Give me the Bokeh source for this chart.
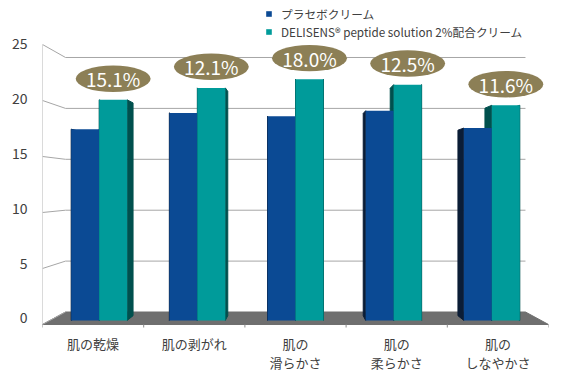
from bokeh.plotting import figure
from bokeh.models import Range1d, FactorRange, LinearAxis, FixedTicker, Legend, LegendItem, ColumnDataSource
from bokeh.core.properties import value
from bokeh.embed import file_html
from bokeh.resources import INLINE

# ---------------- data ----------------
categories = ["肌の乾燥", "肌の剥がれ", "肌の\n滑らかさ", "肌の\n柔らかさ", "肌の\nしなやかさ"]
series_names = ["プラセボクリーム", "DELISENS® peptide solution 2%配合クリーム"]
placebo = [17.6, 19.1, 18.8, 19.3, 17.7]
delisens = [20.3, 21.4, 22.2, 21.7, 19.8]
improvement = ["15.1%", "12.1%", "18.0%", "12.5%", "11.6%"]
y_ticks = [0, 5, 10, 15, 20, 25]

# ---------------- styles / 3D projection helpers ----------------
FONT = "Noto Sans CJK JP"
BLUE, TEAL = "#0b4a94", "#009b9a"
BLUE_SIDE, TEAL_SIDE = "#0b1d36", "#00504e"
GRID = "#a6a6a6"
FLOOR = "#6f6f6f"
TXT = "#404040"
OVAL = "#8c7f56"

XC, VC = 2.5, 12.24           # vanishing centre (screen data units)
S_BACK, S_BAR, S_BAR_BACK = 0.909, 0.97, 0.936
BW = 0.285                    # bar width in category units


def vf(v):
    # value -> screen-y at the front plane
    return (11.2 * v - 5.0) / 10.8


def scr(X, v, s):
    return XC + (X - XC) * s, VC + (vf(v) - VC) * s


n = len(categories)
p = figure(frame_width=506, frame_height=327, output_backend="svg", toolbar_location=None,
           x_range=FactorRange(*categories), y_range=Range1d(-0.741, 29.537),
           y_axis_location=None,
           min_border_left=42, min_border_right=17, min_border_top=0, min_border_bottom=46)
p.outline_line_color = None
p.xgrid.visible = False
p.ygrid.visible = False
p.background_fill_color = "white"

# y axis (labels only; range matches the front plane label positions)
p.extra_y_ranges = {"lab": Range1d(-0.867, 28.969)}
yax = LinearAxis(y_range_name="lab", ticker=FixedTicker(ticks=y_ticks))
yax.axis_line_color = None
yax.major_tick_line_color = None
yax.minor_tick_line_color = None
yax.major_label_standoff = 9
yax.major_label_text_font = FONT
yax.major_label_text_font_size = "14px"
yax.major_label_text_color = TXT
p.add_layout(yax, "left")

xax = p.xaxis[0]
xax.axis_line_color = None
xax.major_tick_line_color = None
xax.major_tick_out = 0
xax.major_label_standoff = 6
xax.major_label_text_font = FONT
xax.major_label_text_font_size = "13px"
xax.major_label_text_color = TXT
xax.major_label_text_line_height = 1.05

# floor
fx, fy = [], []
for X, s in [(0, 1), (n, 1), (n, S_BACK), (0, S_BACK)]:
    a, b = scr(X, 0, s)
    fx.append(a); fy.append(b)
p.patch(fx, fy, fill_color=FLOOR, line_color=FLOOR)

# back wall grid lines + perspective lines + axis line
gx0, gy0, gx1, gy1 = [], [], [], []
dx0, dy0, dx1, dy1 = [], [], [], []
for t in y_ticks:
    a0, b0 = scr(0, t, S_BACK)
    a1, b1 = scr(n, t, S_BACK)
    if t > 0:
        gx0.append(a0); gy0.append(b0); gx1.append(a1); gy1.append(b1)
    c0, e0 = scr(0, t, 1)
    dx0.append(c0); dy0.append(e0); dx1.append(a0); dy1.append(b0)
p.segment(gx0, gy0, gx1, gy1, line_color=GRID, line_width=1)
p.segment(dx0, dy0, dx1, dy1, line_color=GRID, line_width=1)
ax0 = scr(0, y_ticks[0], 1)
ax1 = scr(0, y_ticks[-1], 1)
p.segment([ax0[0]], [ax0[1]], [ax1[0]], [ax1[1]], line_color="#b5b5b5", line_width=1)
# category separators under the floor
sx, sy0, sy1 = [], [], []
for k in range(n + 1):
    a, b = scr(k, 0, 1)
    sx.append(a); sy0.append(b); sy1.append(b - 0.38)
p.segment(sx, sy0, sx, sy1, line_color="#8c8c8c", line_width=1)

# bars: side faces first, then front faces
side_x, side_y, side_c = [], [], []
fronts = {0: dict(left=[], right=[], top=[], bottom=[]), 1: dict(left=[], right=[], top=[], bottom=[])}
teal_cx, teal_top = [], []
for i in range(n):
    c = i + 0.5
    for k, (vals, col) in enumerate([(placebo, BLUE_SIDE), (delisens, TEAL_SIDE)]):
        xl = c - BW + k * BW
        xr = xl + BW
        v = vals[i]
        for xe in (xl, xr):
            f_b = scr(xe, 0, S_BAR); f_t = scr(xe, v, S_BAR)
            b_t = scr(xe, v, S_BAR_BACK); b_b = scr(xe, 0, S_BAR_BACK)
            side_x.append([f_b[0], f_t[0], b_t[0], b_b[0]])
            side_y.append([f_b[1], f_t[1], b_t[1], b_b[1]])
            side_c.append(col)
        lft, top = scr(xl, v, S_BAR)
        rgt, bot = scr(xr, 0, S_BAR)
        fronts[k]["left"].append(lft); fronts[k]["right"].append(rgt)
        fronts[k]["top"].append(top); fronts[k]["bottom"].append(bot)
        if k == 1:
            teal_cx.append((lft + rgt) / 2)
            teal_top.append(top)
p.patches(side_x, side_y, fill_color=side_c, line_color=side_c)
r_blue = p.quad(source=ColumnDataSource(fronts[0]), left="left", right="right", top="top", bottom="bottom",
                fill_color=BLUE, line_color=None)
r_teal = p.quad(source=ColumnDataSource(fronts[1]), left="left", right="right", top="top", bottom="bottom",
                fill_color=TEAL, line_color=None)

# improvement ovals
oval_y = [t + 1.95 for t in teal_top]
p.ellipse(x=teal_cx, y=oval_y, width=0.74, height=2.45, fill_color=OVAL, line_color=None)
p.text(x=teal_cx, y=oval_y, text=improvement, text_align="center", text_baseline="middle",
       text_color="white", text_font=value(FONT), text_font_size="19px")

legend = Legend(items=[LegendItem(label=series_names[0], renderers=[r_blue]),
                       LegendItem(label=series_names[1], renderers=[r_teal])],
                location=(223, 287), glyph_width=7, glyph_height=7, label_standoff=9,
                spacing=1, padding=0, margin=0, label_height=16,
                background_fill_alpha=0, border_line_color=None,
                label_text_font=FONT, label_text_font_size="11.7px", label_text_color=TXT)
p.add_layout(legend)

open("out.html", "w").write(file_html(p, INLINE))
